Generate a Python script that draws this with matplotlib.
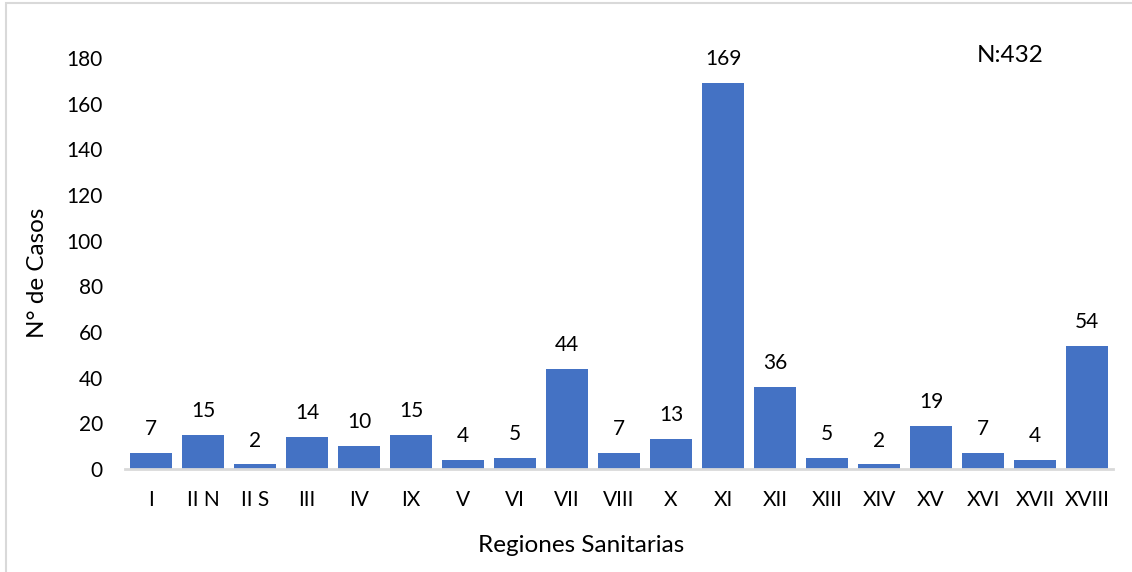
import matplotlib
matplotlib.use('Agg')
import matplotlib.pyplot as plt
from matplotlib.patches import Rectangle
import numpy as np

plt.rcParams['font.family'] = ['Lato', 'DejaVu Sans']

regiones = ['I', 'II N', 'II S', 'III', 'IV', 'IX', 'V', 'VI', 'VII', 'VIII',
            'X', 'XI', 'XII', 'XIII', 'XIV', 'XV', 'XVI', 'XVII', 'XVIII']
casos = [7, 15, 2, 14, 10, 15, 4, 5, 44, 7, 13, 169, 36, 5, 2, 19, 7, 4, 54]
y_ticks = [0, 20, 40, 60, 80, 100, 120, 140, 160, 180]
total_label = 'N:432'

BLUE = '#4472C4'
GRAY = '#D9D9D9'
FS = 15
FS_TITLE = 17.5

fig = plt.figure(figsize=(11.32, 5.72), dpi=100)
# light frame around chart area (left/top edges visible)
fig.patches.append(Rectangle((6 / 1132, -0.1), 1.2, 1.1 - 3 / 572,
                             transform=fig.transFigure, fill=False,
                             edgecolor=GRAY, linewidth=1.5))

ax = fig.add_axes([125 / 1132, 1 - 469 / 572, (1113 - 125) / 1132, (469 - 58) / 572])
x = np.arange(len(regiones))
ax.bar(x, casos, width=0.8, color=BLUE, zorder=2)
for xi, v in zip(x, casos):
  ax.annotate(str(v), (xi, v), xytext=(0, 10), textcoords='offset points',
              ha='center', va='bottom', fontsize=15, color='#000000')

ax.set_xlim(-0.5, len(regiones) - 0.5)
ax.set_ylim(0, 180)
ax.set_yticks(y_ticks)
ax.set_xticks(x)
ax.set_xticklabels(regiones)
ax.tick_params(axis='both', length=0, labelsize=FS, colors='#000000')
ax.tick_params(axis='y', pad=16)
ax.tick_params(axis='x', pad=15)
for s in ['top', 'right', 'left']:
  ax.spines[s].set_visible(False)
ax.spines['bottom'].set_color(GRAY)
ax.spines['bottom'].set_linewidth(2)
ax.spines['bottom'].set_zorder(3)

# axis titles placed like the source chart
fig.text(38 / 1132, 1 - 273 / 572, 'N° de Casos', fontsize=FS_TITLE,
         rotation=90, ha='center', va='center')
fig.text(581 / 1132, 1 - 545 / 572, 'Regiones Sanitarias', fontsize=FS_TITLE,
         ha='center', va='center')
fig.text(1010 / 1132, 1 - 55 / 572, total_label, fontsize=FS_TITLE, ha='center', va='center')

fig.savefig('out.png', dpi=100)
